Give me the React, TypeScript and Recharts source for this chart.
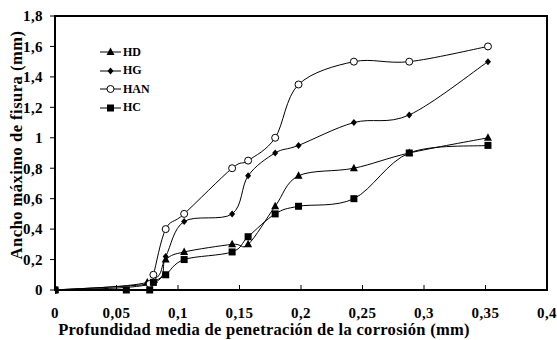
import React from 'react';
import { LineChart, Line, XAxis, YAxis, ReferenceArea } from 'recharts';

// crack width (mm) vs mean corrosion penetration depth (mm)
const HD: [number, number][] = [
    [0, 0], [0.075, 0.05], [0.09, 0.2], [0.105, 0.25], [0.144, 0.3], [0.157, 0.3],
    [0.179, 0.55], [0.198, 0.75], [0.243, 0.8], [0.288, 0.9], [0.352, 1.0],
];
const HG: [number, number][] = [
    [0, 0], [0.078, 0.04], [0.09, 0.22], [0.105, 0.45], [0.144, 0.5], [0.157, 0.75],
    [0.179, 0.9], [0.198, 0.95], [0.243, 1.1], [0.288, 1.15], [0.352, 1.5],
];
const HAN: [number, number][] = [
    [0, 0], [0.077, 0.04], [0.08, 0.1], [0.09, 0.4], [0.105, 0.5], [0.144, 0.8], [0.157, 0.85],
    [0.179, 1.0], [0.198, 1.35], [0.243, 1.5], [0.288, 1.5], [0.352, 1.6],
];
const HC: [number, number][] = [
    [0, 0], [0.058, 0], [0.077, 0], [0.08, 0.05], [0.09, 0.1], [0.105, 0.2], [0.144, 0.25],
    [0.157, 0.35], [0.179, 0.5], [0.198, 0.55], [0.243, 0.6], [0.288, 0.9], [0.352, 0.95],
];

const X_TICKS = [0, 0.05, 0.1, 0.15, 0.2, 0.25, 0.3, 0.35, 0.4];
const Y_TICKS = [0, 0.2, 0.4, 0.6, 0.8, 1, 1.2, 1.4, 1.6, 1.8];

type Shape = 'triangle' | 'diamond' | 'circle' | 'square';

const SERIES: { name: string; shape: Shape; points: [number, number][] }[] = [
    { name: 'HD', shape: 'triangle', points: HD },
    { name: 'HG', shape: 'diamond', points: HG },
    { name: 'HAN', shape: 'circle', points: HAN },
    { name: 'HC', shape: 'square', points: HC },
];

const FONT = '"Liberation Serif", "Times New Roman", serif';
const comma = (v: number) => String(v).replace('.', ',');

// Excel-style smoothed line (catmull-rom through the points)
const smooth = (context: any) => {
    let pts: number[][] = [];
    return {
        areaStart() {},
        areaEnd() {},
        lineStart() { pts = []; },
        point(x: number, y: number) { pts.push([x, y]); },
        lineEnd() {
            if (!pts.length) return;
            context.moveTo(pts[0][0], pts[0][1]);
            for (let i = 0; i < pts.length - 1; i++) {
                const p0 = pts[i - 1] || pts[i];
                const p1 = pts[i];
                const p2 = pts[i + 1];
                const p3 = pts[i + 2] || p2;
                context.bezierCurveTo(
                    p1[0] + (p2[0] - p0[0]) / 6, p1[1] + (p2[1] - p0[1]) / 6,
                    p2[0] - (p3[0] - p1[0]) / 6, p2[1] - (p3[1] - p1[1]) / 6,
                    p2[0], p2[1]
                );
            }
        },
    };
};

function Marker({ cx, cy, shape }: { cx: number; cy: number; shape: Shape }) {
    if (shape === 'triangle') {
        return <polygon points={`${cx},${cy - 4.5} ${cx + 4},${cy + 3} ${cx - 4},${cy + 3}`} fill="#000" />;
    }
    if (shape === 'diamond') {
        return <polygon points={`${cx},${cy - 3.5} ${cx + 3},${cy} ${cx},${cy + 3.5} ${cx - 3},${cy}`} fill="#000" />;
    }
    if (shape === 'circle') {
        return <circle cx={cx} cy={cy} r={3.5} fill="#fff" stroke="#000" strokeWidth={1} />;
    }
    return <rect x={cx - 3.5} y={cy - 3.5} width={7} height={7} fill="#000" />;
}

function ChartLegend() {
    return (
        <div style={{ position: 'absolute', left: 99, top: 43, fontFamily: FONT, fontWeight: 'bold', fontSize: 12 }}>
            {SERIES.map(s => (
                <div key={s.name} style={{ display: 'flex', alignItems: 'center', height: 18.5 }}>
                    <svg width={23} height={12}>
                        <line x1={1} y1={6} x2={22} y2={6} stroke="#000" strokeWidth={1} />
                        <Marker cx={11.5} cy={6} shape={s.shape} />
                    </svg>
                    <span style={{ marginLeft: 1 }}>{s.name}</span>
                </div>
            ))}
        </div>
    );
}

export default function App() {
    const tickStyle = { fontFamily: FONT, fontWeight: 'bold' as const, fontSize: 15, fill: '#000', letterSpacing: 0.4 };
    const titleStyle = { fontFamily: FONT, fontWeight: 'bold' as const, fontSize: 16.5, fill: '#000' };

    return (
        <div style={{ position: 'absolute', left: 0, top: 0, width: 557, height: 340, overflow: 'hidden', background: '#fff' }}>
            <LineChart width={557} height={340} margin={{ top: 16, right: 10, left: 0, bottom: 0 }}>
                <XAxis
                    type="number"
                    dataKey="x"
                    domain={[0, 0.4]}
                    ticks={X_TICKS}
                    tickFormatter={comma}
                    height={50}
                    tick={tickStyle}
                    axisLine={{ stroke: '#000', strokeWidth: 2 }}
                    tickLine={{ stroke: '#000', strokeWidth: 1 }}
                    tickSize={-5}
                    tickMargin={22.5}
                    allowDataOverflow
                    label={{
                        value: 'Profundidad media de penetración de la corrosión (mm)',
                        position: 'insideBottom',
                        offset: 5,
                        dx: -37,
                        style: { ...titleStyle, letterSpacing: 0.3 },
                    }}
                />
                <YAxis
                    type="number"
                    domain={[0, 1.8]}
                    ticks={Y_TICKS}
                    tickFormatter={comma}
                    width={55}
                    tick={tickStyle}
                    axisLine={{ stroke: '#000', strokeWidth: 2 }}
                    tickLine={{ stroke: '#000', strokeWidth: 1 }}
                    tickSize={5}
                    tickMargin={7}
                    label={{
                        value: 'Ancho máximo de fisura (mm)',
                        angle: -90,
                        position: 'insideLeft',
                        offset: 16,
                        dy: -8,
                        style: { ...titleStyle, letterSpacing: 0.5, textAnchor: 'middle' },
                    }}
                />
                <ReferenceArea x1={0} x2={0.4} y1={0} y2={1.8} fill="none" stroke="#000" strokeWidth={2} ifOverflow="visible" />
                {SERIES.map(s => (
                    <Line
                        key={s.name}
                        name={s.name}
                        data={s.points.map(([x, y]) => ({ x, y }))}
                        dataKey="y"
                        type={smooth as any}
                        stroke="#000"
                        strokeWidth={1}
                        isAnimationActive={false}
                        dot={(p: any) => <Marker key={`${s.name}-${p.index}`} cx={p.cx} cy={p.cy} shape={s.shape} />}
                        activeDot={false}
                    />
                ))}
            </LineChart>
            <ChartLegend />
        </div>
    );
}
